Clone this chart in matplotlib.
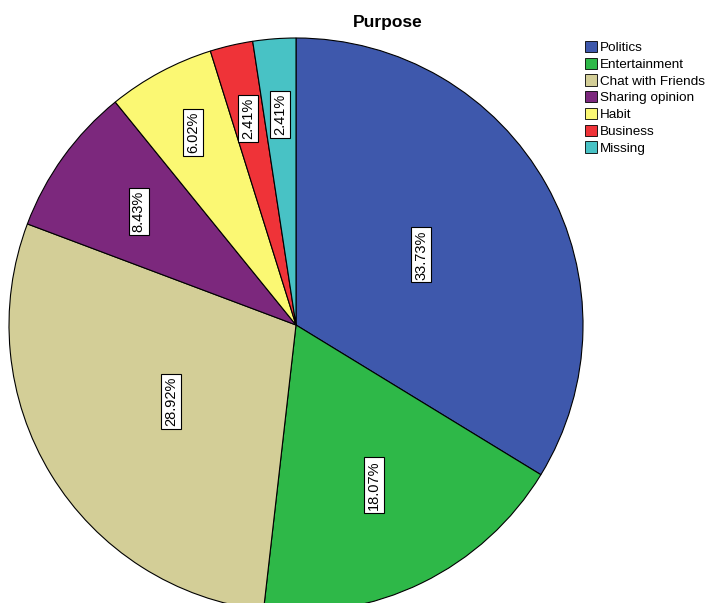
import matplotlib
matplotlib.use("Agg")
import matplotlib.pyplot as plt
from matplotlib.patches import Patch
import numpy as np

plt.rcParams['font.family'] = ['Liberation Sans', 'DejaVu Sans']

categories = ["Politics", "Entertainment", "Chat with Friends", "Sharing opinion",
              "Habit", "Business", "Missing"]
values = [33.73, 18.07, 28.92, 8.43, 6.02, 2.41, 2.41]
colors = ["#3E58AC", "#2EB848", "#D3CE97", "#7C287D", "#FBF873", "#EF3338", "#48C2C5"]
label_radius = [0.50, 0.62, 0.51, 0.675, 0.76, 0.74, 0.735]

W, H = 708, 603
fig = plt.figure(figsize=(W / 100, H / 100), dpi=100)
cx, cy, r = 296, 325, 287
ax = fig.add_axes([(cx - r) / W, (H - cy - r) / H, 2 * r / W, 2 * r / H])
wedges, _ = ax.pie(values, colors=colors, startangle=90, counterclock=False,
                   radius=1.0, wedgeprops=dict(edgecolor="black", linewidth=0.8))
ax.set_xlim(-1, 1)
ax.set_ylim(-1, 1)
ax.set_aspect('equal')
ax.axis('off')

for w, v, lr in zip(wedges, values, label_radius):
    ang = np.deg2rad((w.theta1 + w.theta2) / 2)
    ax.text(lr * np.cos(ang), lr * np.sin(ang), f"{v:.2f}%", rotation=90,
            ha='center', va='center', fontsize=10.5,
            bbox=dict(boxstyle='square,pad=0.2', facecolor='white',
                      edgecolor='black', linewidth=0.8))

fig.text(388 / W, 1 - 22 / H, "Purpose", ha='center', va='center',
         fontsize=12.5, fontweight='bold')

handles = [Patch(facecolor=c, edgecolor='black', linewidth=0.6) for c in colors]
fig.legend(handles, categories, loc='upper left',
           bbox_to_anchor=(585 / W, 1 - 41 / H), frameon=False, fontsize=9.7,
           handlelength=0.9, handleheight=0.9, handletextpad=0.2,
           labelspacing=0.26, borderaxespad=0, borderpad=0)

fig.savefig("out.png", dpi=100)
